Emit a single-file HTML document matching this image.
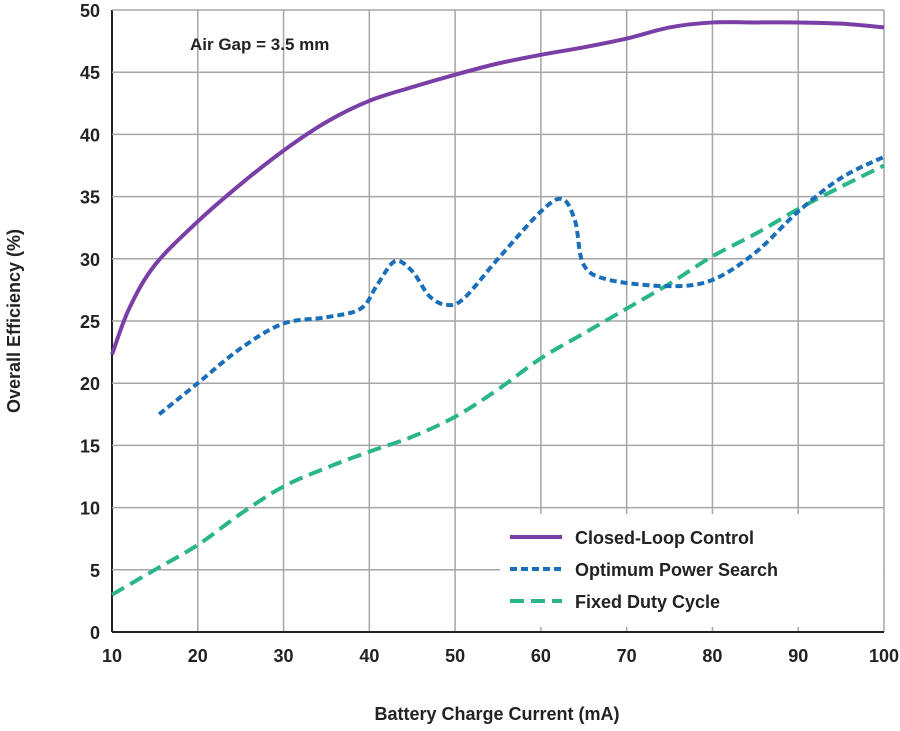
<!DOCTYPE html>
<html><head><meta charset="utf-8"><style>
body{margin:0;background:#fff;}
svg text{font-family:"Liberation Sans Narrow","Liberation Sans",sans-serif;font-weight:bold;fill:#222;}
</style></head><body>
<svg id="chart" width="900" height="726">
<g id="grid"></g>
<g id="ticks"></g>
<g id="series"></g>
<text x="190" y="50" font-size="17">Air Gap = 3.5 mm</text>
<text x="497" y="720" font-size="18" text-anchor="middle">Battery Charge Current (mA)</text>
<text transform="translate(20,321) rotate(-90)" font-size="18" text-anchor="middle">Overall Efficiency (%)</text>
<g>
<rect x="500" y="514" width="383" height="113" fill="#fff"/>
<line x1="510" y1="537" x2="562" y2="537" stroke="#7a3fa6" stroke-width="4"/>
<text x="575" y="544" font-size="18">Closed-Loop Control</text>
<line x1="510" y1="569" x2="562" y2="569" stroke="#1a6fba" stroke-width="4" stroke-dasharray="7,4"/>
<text x="575" y="576" font-size="18">Optimum Power Search</text>
<line x1="510" y1="601" x2="562" y2="601" stroke="#2ab58a" stroke-width="4" stroke-dasharray="14,7"/>
<text x="575" y="608" font-size="18">Fixed Duty Cycle</text>
</g>
</svg>
<script>
const xTicks=[10,20,30,40,50,60,70,80,90,100];
const yTicks=[0,5,10,15,20,25,30,35,40,45,50];
const closedX=[10,12,15,20,25,30,35,40,45,50,55,60,65,70,75,80,85,90,95,100];
const closedY=[22.3,26,29.5,33,36,38.7,41,42.7,43.8,44.8,45.7,46.4,47,47.7,48.6,49,49,49,48.9,48.6];
const optX=[15.5,20,25,30,35,39,41,43,45,47,49,51,55,60,62.5,64,65,68,75,80,85,90,95,100];
const optY=[17.5,20,22.8,24.8,25.3,26,28,29.8,29,27,26.3,26.8,30,33.8,34.8,33,29.5,28.3,27.8,28.3,30.5,33.8,36.5,38.2];
const fixX=[10,15,20,25,30,35,40,45,50,55,60,65,70,75,80,85,90,95,100];
const fixY=[3,5,7,9.5,11.7,13.2,14.5,15.7,17.3,19.5,22,24,26,28,30.2,32,34,35.8,37.5];
const X0=112,X1=884,Y0=632,Y1=10;
const sx=v=>X0+(v-10)/90*(X1-X0);
const sy=v=>Y0-v/50*(Y0-Y1);
const NS="http://www.w3.org/2000/svg";
const grid=document.getElementById('grid'),ticks=document.getElementById('ticks'),ser=document.getElementById('series');
function mk(tag,attrs,parent){const e=document.createElementNS(NS,tag);for(const k in attrs)e.setAttribute(k,attrs[k]);parent.appendChild(e);return e;}
xTicks.forEach(t=>{
 const l=mk('line',{x1:sx(t),x2:sx(t),y1:Y1,y2:Y0,stroke:t===10?'#222':'#a6a6a6','stroke-width':t===10?2:1.5},grid);
 
 
 const tx=mk('text',{x:sx(t),y:Y0+30,'font-size':18,'text-anchor':'middle'},ticks);
 tx.textContent=t;
 
 
});
yTicks.forEach(t=>{
 const l=mk('line',{x1:X0,x2:X1,y1:sy(t),y2:sy(t),stroke:t===0?'#222':'#a6a6a6','stroke-width':t===0?2:1.5},grid);
 
 
 const tx=mk('text',{x:X0-12,y:sy(t)+7,'font-size':18,'text-anchor':'end'},ticks);
 tx.textContent=t;
 
 
});
function path(xs,ys){
 const p=xs.map((x,i)=>[sx(x),sy(ys[i])]);
 let d='M'+p[0][0]+','+p[0][1];
 for(let i=0;i<p.length-1;i++){
  const a=p[i-1]||p[i],b=p[i],c=p[i+1],e=p[i+2]||c;
  d+=' C'+(b[0]+(c[0]-a[0])/6)+','+(b[1]+(c[1]-a[1])/6)+' '+(c[0]-(e[0]-b[0])/6)+','+(c[1]-(e[1]-b[1])/6)+' '+c[0]+','+c[1];
 }
 return d;
}
const s1=mk('path',{d:path(fixX,fixY),fill:'none',stroke:'#2ab58a','stroke-width':4,'stroke-dasharray':'14,7'},ser);


const s2=mk('path',{d:path(optX,optY),fill:'none',stroke:'#1a6fba','stroke-width':4,'stroke-dasharray':'7,4'},ser);


const s3=mk('path',{d:path(closedX,closedY),fill:'none',stroke:'#7a3fa6','stroke-width':4},ser);


</script>
</body></html>
